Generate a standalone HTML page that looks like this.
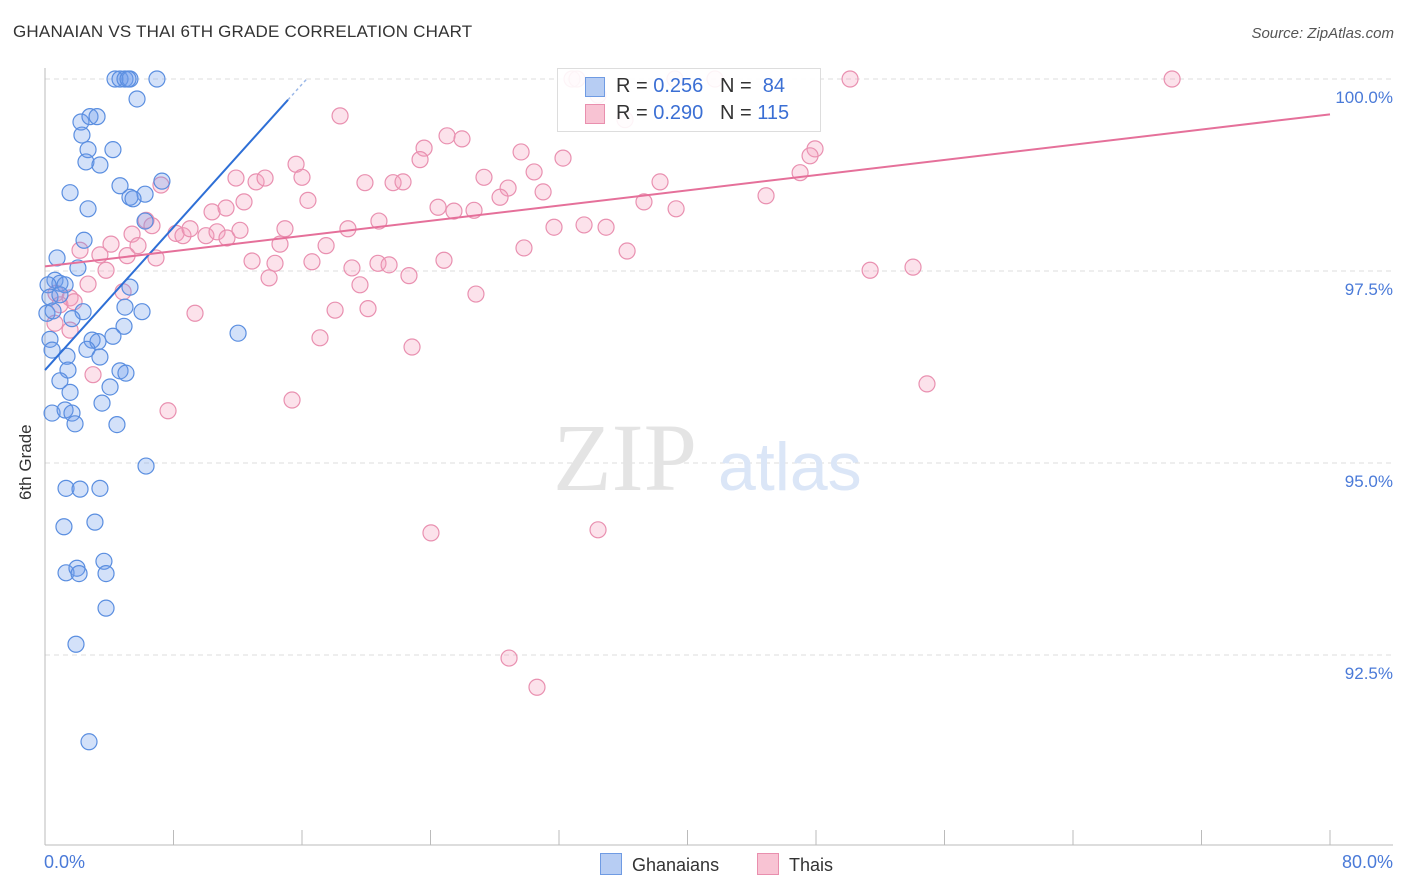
<!DOCTYPE html>
<html><head><meta charset="utf-8"><style>
body{margin:0;background:#fff;font-family:"Liberation Sans",sans-serif}
#wrap{position:relative;width:1406px;height:892px;overflow:hidden}
.t{position:absolute;white-space:nowrap}
</style></head><body>
<div id="wrap">
<div class="t" style="left:13px;top:22px;font-size:17px;color:#333;letter-spacing:0.2px">GHANAIAN VS THAI 6TH GRADE CORRELATION CHART</div>
<div class="t" style="right:12px;top:25px;font-size:15px;color:#555;font-style:italic">Source: ZipAtlas.com</div>
<div class="t" style="left:16px;top:500px;font-size:17px;color:#333;transform:rotate(-90deg);transform-origin:0 0">6th Grade</div>
<svg id="svg" width="1406" height="892" style="position:absolute;left:0;top:0"></svg>
</div>
<script>
const blueX=[4.36,4.67,4.98,5.29,6.97,5.17,5.73,2.24,2.80,3.24,2.30,2.68,4.23,2.55,3.42,4.67,1.56,5.29,6.23,7.28,2.68,5.48,6.23,2.43,0.75,2.05,0.62,0.93,0.19,1.25,5.29,0.31,0.93,2.37,0.12,0.50,1.68,6.04,4.98,4.92,12.02,0.31,2.93,4.23,3.30,1.37,0.44,2.61,3.42,1.43,4.67,5.04,0.93,4.05,1.56,3.55,0.44,1.25,1.68,1.87,4.48,6.29,1.31,2.18,3.42,1.18,3.11,1.31,1.99,2.12,3.67,3.80,3.80,1.93,2.74];
const blueY=[100,100,100,100,100,100,99.74,99.44,99.51,99.51,99.27,99.08,99.08,98.92,98.88,98.61,98.52,98.46,98.50,98.67,98.31,98.44,98.15,97.90,97.67,97.54,97.38,97.34,97.32,97.32,97.29,97.16,97.19,96.97,96.95,96.98,96.88,96.97,97.03,96.78,96.69,96.61,96.60,96.65,96.58,96.39,96.47,96.48,96.38,96.21,96.20,96.17,96.07,95.99,95.92,95.78,95.65,95.69,95.65,95.51,95.50,94.96,94.67,94.66,94.67,94.17,94.23,93.57,93.63,93.56,93.72,93.56,93.11,92.64,91.37];
const pinkX=[32.81,33.12,39.22,41.71,50.12,70.17,18.37,25.03,25.96,23.60,29.64,32.25,47.94,47.63,23.35,15.63,16.00,11.89,13.14,13.70,27.33,30.45,19.92,21.67,22.29,28.83,31.01,38.29,47.01,7.22,16.37,12.39,24.47,25.46,26.71,28.33,37.29,39.29,44.89,10.40,11.27,6.29,14.94,18.86,20.79,31.69,33.56,34.93,8.16,8.59,9.03,10.02,10.71,11.33,12.14,5.42,6.66,4.11,5.79,14.63,17.50,29.82,36.24,2.18,3.42,5.11,6.91,12.89,14.32,16.62,19.11,20.73,21.42,24.84,51.37,54.04,3.80,2.68,13.95,22.66,19.61,0.68,1.56,4.86,26.83,0.93,1.81,9.34,18.06,20.11,0.62,1.56,17.12,22.85,2.99,54.91,15.38,7.66,24.03,34.43,28.89,30.63,34.43,36.11];
const pinkY=[100,100,100,100,100,100,99.52,99.26,99.22,99.10,99.05,98.97,99.09,99.00,98.95,98.89,98.72,98.71,98.66,98.71,98.72,98.79,98.65,98.65,98.66,98.58,98.53,98.66,98.78,98.62,98.42,98.40,98.33,98.28,98.29,98.46,98.40,98.31,98.48,98.27,98.32,98.16,98.05,98.05,98.15,98.07,98.10,98.07,97.99,97.96,98.05,97.96,98.01,97.93,98.03,97.98,98.09,97.85,97.83,97.85,97.83,97.80,97.76,97.77,97.71,97.70,97.67,97.63,97.60,97.62,97.54,97.60,97.58,97.64,97.51,97.55,97.51,97.33,97.41,97.44,97.32,97.21,97.15,97.23,97.20,97.06,97.10,96.95,96.99,97.01,96.82,96.73,96.63,96.51,96.15,96.03,95.82,95.68,94.09,94.13,92.46,92.08,99.79,99.47];
const yTicks=[100,97.5,95,92.5];
const yTickLabels=["100.0%","97.5%","95.0%","92.5%"];
const blueFit=[96.21,0.2326]; // intercept, slope
const pinkFit=[97.56,0.02475];

const svg=document.getElementById('svg');
const NS='http://www.w3.org/2000/svg';
const X=v=>45+v/80*1285;
const Y=v=>79+(100-v)*76.8;
function mk(tag,attrs){const e=document.createElementNS(NS,tag);for(const k in attrs)e.setAttribute(k,attrs[k]);svg.appendChild(e);return e;}
yTicks.forEach((t,i)=>{
 const g=mk('line',{x1:45,x2:1393,y1:Y(t),y2:Y(t),stroke:'#ddd','stroke-dasharray':'5,4'});
 
 
 const tx=mk('text',{x:1393,y:Y(t)+24,'text-anchor':'end','font-size':17,fill:'#4a7ad8','font-family':'Liberation Sans, sans-serif'});
 tx.textContent=yTickLabels[i];
 
 
});
let ax=mk('line',{x1:45,x2:1393,y1:845,y2:845,stroke:'#bbb'});


let ay=mk('line',{x1:45,x2:45,y1:68,y2:845,stroke:'#bbb'});


for(let i=0;i<=10;i++){const l=mk('line',{x1:X(i*8),x2:X(i*8),y1:830,y2:845,stroke:'#bbb'});
 
 }
// watermark
let wm=mk('text',{x:553,y:490,'font-size':96,fill:'#e4e4e4','font-family':'Liberation Serif, serif'});wm.textContent='ZIP';


let wm2=mk('text',{x:718,y:490,'font-size':68,fill:'#dbe6f7','font-family':'Liberation Sans, sans-serif'});wm2.textContent='atlas';


function dots(xs,ys,fill,stroke,name){xs.forEach((x,i)=>{const c=mk('circle',{cx:X(x),cy:Y(ys[i]),r:8,fill:fill,stroke:stroke,'stroke-width':1.2});
 
 });}
dots(pinkX,pinkY,'rgba(244,160,190,0.3)','#e990b0','thai-point');
dots(blueX,blueY,'rgba(110,155,235,0.3)','#5a8ee0','ghanaian-point');
let bl=mk('line',{x1:X(0),y1:Y(blueFit[0]),x2:X(15.13),y2:Y(blueFit[0]+blueFit[1]*15.13),stroke:'#2e6fd6','stroke-width':2});


let bd=mk('line',{x1:X(15.13),y1:Y(blueFit[0]+blueFit[1]*15.13),x2:X(16.3),y2:Y(blueFit[0]+blueFit[1]*16.3),stroke:'#9bb8e8','stroke-width':1.5,'stroke-dasharray':'3,3'});


let pl=mk('line',{x1:X(0),y1:Y(pinkFit[0]),x2:X(80),y2:Y(pinkFit[0]+pinkFit[1]*80),stroke:'#e5709a','stroke-width':2});


</script>
<div class="t" style="left:557px;top:68px;width:262px;height:62px;border:1px solid #ddd;background:rgba(255,255,255,0.9);font-size:20px;color:#333">
 <div style="position:absolute;left:27px;top:8px;width:18px;height:18px;background:#b7cdf3;border:1px solid #6f9be3"></div>
 <div style="position:absolute;left:58px;top:6px">R = <span style="color:#3b6fd4">0.256</span>&nbsp;&nbsp;&nbsp;N = &nbsp;<span style="color:#3b6fd4">84</span></div>
 <div style="position:absolute;left:27px;top:35px;width:18px;height:18px;background:#f8c3d3;border:1px solid #e98fae"></div>
 <div style="position:absolute;left:58px;top:33px">R = <span style="color:#3b6fd4">0.290</span>&nbsp;&nbsp;&nbsp;N = <span style="color:#3b6fd4">115</span></div>
</div>
<div class="t" style="left:44px;top:852px;font-size:18px;color:#4a7ad8">0.0%</div>
<div class="t" style="right:13px;top:852px;font-size:18px;color:#4a7ad8">80.0%</div>
<div class="t" style="left:600px;top:853px;font-size:18px;color:#333"><span style="display:inline-block;width:20px;height:20px;background:#b7cdf3;border:1px solid #6f9be3;vertical-align:-4px;margin-right:10px"></span>Ghanaians</div>
<div class="t" style="left:757px;top:853px;font-size:18px;color:#333"><span style="display:inline-block;width:20px;height:20px;background:#f8c3d3;border:1px solid #e98fae;vertical-align:-4px;margin-right:10px"></span>Thais</div>
</body></html>
